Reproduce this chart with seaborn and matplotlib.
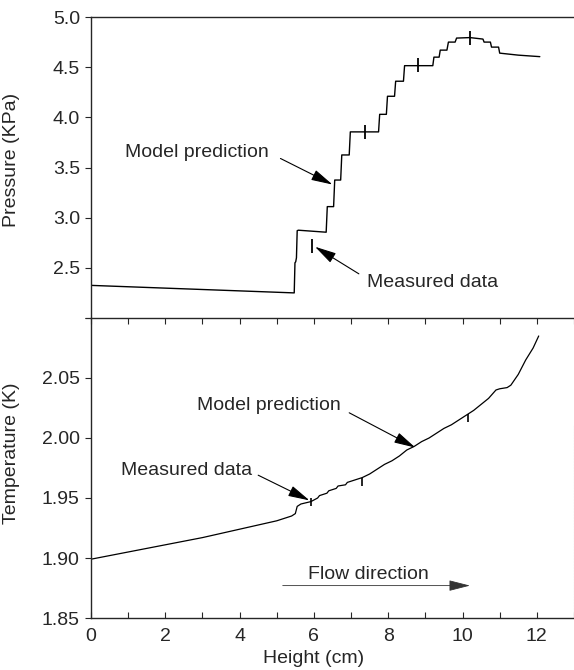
import numpy as np
import pandas as pd
import seaborn as sns
import matplotlib.pyplot as plt

# pressure model prediction (step corners)
p_height = [0.0, 5.47, 5.49, 5.51, 5.53, 5.55, 5.58, 6.33, 6.36, 6.53, 6.56, 6.72, 6.75,
            6.95, 6.98, 7.74, 7.77, 7.95, 7.98, 8.17, 8.20, 8.41, 8.44, 9.20, 9.23,
            9.37, 9.40, 9.58, 9.62, 9.80, 9.84, 10.2, 10.55, 10.58, 10.75, 10.78,
            10.97, 11.0, 11.5, 12.08]
p_model = [2.325, 2.25, 2.55, 2.56, 2.60, 2.87, 2.875, 2.855, 3.11, 3.11, 3.375, 3.375, 3.625,
           3.625, 3.855, 3.855, 4.03, 4.03, 4.21, 4.21, 4.36, 4.36, 4.515, 4.515, 4.60,
           4.60, 4.67, 4.67, 4.75, 4.75, 4.79, 4.795, 4.78, 4.75, 4.75, 4.70,
           4.70, 4.64, 4.62, 4.605]
p_meas_h = [5.94, 7.37, 8.80, 10.19]
p_meas = [2.715, 3.85, 4.52, 4.79]

# temperature model prediction
t_height = [0.0, 1.0, 2.0, 3.0, 4.0, 5.0, 5.4, 5.5, 5.55, 5.65, 5.92, 6.1, 6.15, 6.35, 6.4,
            6.6, 6.65, 6.85, 6.9, 7.1, 7.3, 7.5, 7.7, 7.9, 8.1, 8.3, 8.5, 8.7, 8.9, 9.1,
            9.3, 9.5, 9.7, 9.9, 10.1, 10.3, 10.5, 10.7, 10.9, 11.0, 11.2, 11.3, 11.5,
            11.7, 11.9, 12.05]
t_model = [1.899, 1.905, 1.911, 1.917, 1.924, 1.931, 1.935, 1.937, 1.943, 1.945, 1.947, 1.950,
           1.952, 1.954, 1.956, 1.958, 1.960, 1.961, 1.963, 1.965, 1.967, 1.970, 1.974,
           1.978, 1.981, 1.985, 1.990, 1.993, 1.997, 2.000, 2.004, 2.008, 2.011, 2.015,
           2.019, 2.023, 2.028, 2.033, 2.040, 2.041, 2.042, 2.044, 2.053, 2.065, 2.075, 2.085]
t_meas_h = [5.92, 7.30, 10.16]
t_meas = [1.947, 1.963, 2.017]

sns.set_theme(style="ticks")
plt.rcParams['font.family'] = ['Liberation Sans', 'DejaVu Sans']
fs = 14

fig = plt.figure(figsize=(5.74, 6.70), dpi=100)
ax1 = fig.add_axes([0.1585, 0.5254, 0.8415, 0.4492])
ax2 = fig.add_axes([0.1585, 0.0776, 0.8415, 0.4478])

arrow = dict(arrowstyle='-|>,head_length=1.1,head_width=0.28', color='black', lw=0.8,
             shrinkA=0, shrinkB=0)

# ---- pressure
sns.lineplot(x=p_height, y=p_model, ax=ax1, color='black', lw=1.0, sort=False, estimator=None)
sns.scatterplot(x=p_meas_h, y=p_meas, ax=ax1, marker='|', s=90, linewidth=1.3, color='black')
ax1.set_xlim(0, 13)
ax1.set_ylim(2.0, 5.0)
ax1.set_yticks([2.0, 2.5, 3.0, 3.5, 4.0, 4.5, 5.0])
ax1.set_yticklabels(['', '2.5', '3.0', '3.5', '4.0', '4.5', '5.0'])
ax1.set_xticks([])
ax1.set_ylabel('Pressure (KPa)', fontsize=fs)
ax1.yaxis.set_label_coords(-0.147, 0.525)
ax1.spines['right'].set_visible(False)
ax1.spines['bottom'].set_visible(False)
ax1.text(0.92, 3.645, 'Model prediction', fontsize=fs, va='center')
ax1.annotate('', xy=(6.5, 3.33), xytext=(5.1, 3.59), arrowprops=arrow)
ax1.text(7.42, 2.35, 'Measured data', fontsize=fs, va='center')
ax1.annotate('', xy=(6.03, 2.71), xytext=(7.21, 2.44), arrowprops=arrow)

# ---- temperature
sns.lineplot(x=t_height, y=t_model, ax=ax2, color='black', lw=0.9, sort=False, estimator=None)
sns.scatterplot(x=t_meas_h, y=t_meas, ax=ax2, marker='|', s=40, linewidth=1.2, color='black')
ax2.set_xlim(0, 13)
ax2.set_ylim(1.85, 2.10)
ax2.set_yticks([1.85, 1.90, 1.95, 2.00, 2.05, 2.10])
ax2.set_yticklabels(['1.85', '1.90', '1.95', '2.00', '2.05', ''])
ax2.set_xticks(range(0, 14))
ax2.set_xticklabels([str(i) if i % 2 == 0 and i <= 12 else '' for i in range(0, 14)])
ax2.tick_params(axis='x', direction='in', top=True, length=4, width=0.8, pad=7)
ax2.set_ylabel('Temperature (K)', fontsize=fs)
ax2.yaxis.set_label_coords(-0.147, 0.55)
ax2.set_xlabel('Height (cm)', fontsize=fs)
ax2.xaxis.set_label_coords(0.46, -0.105)
ax2.spines['right'].set_bounds(1.85, 2.01)
ax2.spines['right'].set_linestyle(':')
ax2.spines['right'].set_color('#bbbbbb')
ax2.annotate('', xy=(8.73, 1.992), xytext=(6.95, 2.021), arrowprops=arrow)
ax2.text(2.85, 2.027, 'Model prediction', fontsize=fs, va='center')
ax2.annotate('', xy=(5.88, 1.948), xytext=(4.5, 1.969), arrowprops=arrow)
ax2.text(0.8, 1.9727, 'Measured data', fontsize=fs, va='center')
ax2.text(5.83, 1.8866, 'Flow direction', fontsize=fs, va='center')
ax2.annotate('', xy=(10.2, 1.877), xytext=(5.16, 1.877),
             arrowprops=dict(arrow, lw=0.6, color='#333333'))

for ax in (ax1, ax2):
    ax.tick_params(axis='y', direction='out', length=4, width=0.8, labelsize=fs, pad=4)
    ax.tick_params(axis='x', labelsize=fs)
    for s in ax.spines.values():
        s.set_linewidth(1.0)
    ax.spines['right'].set_linewidth(0.8)

fig.savefig('out.png', dpi=100)
